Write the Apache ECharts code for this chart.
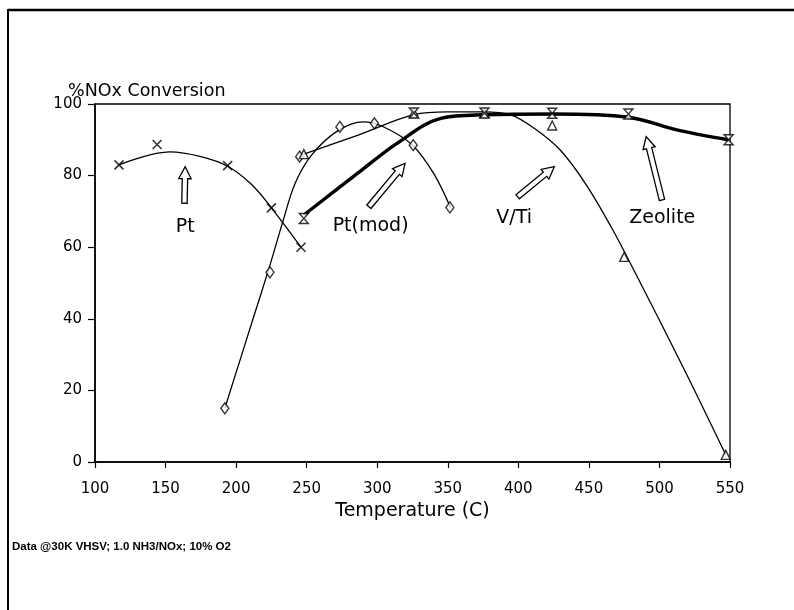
<!DOCTYPE html>
<html>
<head>
<meta charset="utf-8">
<script src="https://cdn.jsdelivr.net/npm/echarts@6/dist/echarts.min.js"></script>
<style>
html,body{margin:0;padding:0;background:#fff;}
#chart{width:794px;height:610px;}
</style>
</head>
<body>
<div id="chart"></div>
<script>
// ---- Data ----
// Measured points [temperature C, % NOx conversion]
var ptPoints      = [[117,83],[144,88.7],[194,82.8],[225,71],[246,60]];
var ptModPoints   = [[192,15],[224,53],[245,85.3],[273.5,93.6],[298,94.6],[325.5,88.5],[351.5,71.1]];
var vtiPoints     = [[248,86],[326,97.5],[376,97.5],[424,94],[475,57.3],[547,2]];
var zeolitePoints = [[248,68],[326,97.5],[376,97.5],[424,97.4],[478,97.2],[549,90]];

// Drawn fit curves
var ptCurve      = [[117,83],[153,86.6],[175,85.3],[194,82.6],[211,77.5],[225,71],[246,60]];
var ptModCurve   = [[192,15],[212,40],[224,55],[233,67],[242,78],[254,86],[272,92.5],[290,95],[305,93.5],[325,88.5],[340,80.6],[352,71]];
var vtiCurve     = [[248,86],[287,91.4],[326,97],[350,97.8],[375,97.8],[395,96.9],[412,93],[430,87],[448,77.5],[466,65.5],[482,53.5],[518,25.5],[547,2]];
var zeoliteCurve = [[248,69],[286,80.6],[314,89],[345,96],[376,97],[425,97.2],[478,96.3],[513,92.7],[549,90]];

// Axis ticks
var xTicks = [100,150,200,250,300,350,400,450,500,550];
var yTicks = [0,20,40,60,80,100];

// Annotation arrows
var arrowLabels = ['Pt','Pt(mod)','V/Ti','Zeolite'];
var arrowTips   = [[163.9,82.5],[319.7,83.4],[425.5,82.5],[490.6,90.9]];
var arrowBases  = [[163.4,72.3],[294.1,71.3],[399.5,74.1],[501.8,73.2]];
var labelPos    = [[164,65.6],[295.3,65.9],[397,68.2],[502,68.2]];

var FONT = '"DejaVu Sans", "Liberation Sans", Arial, sans-serif';
var FOOTFONT = '"Liberation Sans", Arial, sans-serif';
var chart = echarts.init(document.getElementById('chart'), null, {renderer:'canvas'});

function hollow(sym, size){
  return {
    type:'scatter', symbol:sym, symbolSize:size, z:5,
    itemStyle:{color:'#fff', borderColor:'#000', borderWidth:1.4}
  };
}
function curve(data, w){
  return {
    type:'line', data:data, smooth:0.35, showSymbol:false, symbol:'none', z:3,
    lineStyle:{color:'#000', width:w}
  };
}

var sPtCurve = curve(ptCurve, 1.3);
var sPtModCurve = curve(ptModCurve, 1.3);
var sVtiCurve = curve(vtiCurve, 1.3);
var sZeoCurve = curve(zeoliteCurve, 3.4);

var sPt = {type:'scatter', data:ptPoints, symbol:'path://M0,0L10,10M10,0L0,10', symbolSize:9, z:5,
  itemStyle:{color:'transparent', borderColor:'#000', borderWidth:1.6}};
var sPtMod = hollow('diamond',[8,11]); sPtMod.data = ptModPoints;
var sVti = hollow('triangle',[9,9]); sVti.data = vtiPoints;
var sZeo = hollow('path://M0,0L10,0L0,10L10,10Z',[9,10]); sZeo.data = zeolitePoints;

chart.setOption({
  animation:false,
  backgroundColor:'#fff',
  title:{
    text:'%NOx Conversion', left:63, top:77,
    textStyle:{fontFamily:FONT, fontSize:17.5, fontWeight:'normal', color:'#000'}
  },
  grid:{left:95, right:64, top:104, bottom:148, show:true, borderColor:'#000', borderWidth:1.3, backgroundColor:'transparent'},
  xAxis:{
    type:'value', min:xTicks[0], max:xTicks[xTicks.length-1], interval:50,
    name:'Temperature (C)', nameLocation:'middle', nameGap:39,
    nameTextStyle:{fontFamily:FONT, fontSize:19, color:'#000'},
    axisLine:{show:true, lineStyle:{color:'#000', width:1.6}},
    axisTick:{show:true, length:6, lineStyle:{color:'#000', width:1.2}},
    axisLabel:{fontFamily:FONT, fontSize:15, color:'#000', margin:20},
    splitLine:{show:false}
  },
  yAxis:{
    type:'value', min:yTicks[0], max:yTicks[yTicks.length-1], interval:20,
    axisLine:{show:true, lineStyle:{color:'#000', width:1.6}},
    axisTick:{show:true, length:7, lineStyle:{color:'#000', width:1.2}},
    axisLabel:{fontFamily:FONT, fontSize:15, color:'#000', margin:13},
    splitLine:{show:false}
  },
  series:[sPtCurve, sPtModCurve, sVtiCurve, sZeoCurve, sPt, sPtMod, sVti, sZeo]
});

var g = [];
g.push({type:'line', shape:{x1:8, y1:10, x2:794, y2:10}, style:{stroke:'#000', lineWidth:2.6}});
g.push({type:'line', shape:{x1:8, y1:9, x2:8, y2:610}, style:{stroke:'#000', lineWidth:2}});
g.push({type:'text', left:12, top:541, style:{text:'Data @30K VHSV; 1.0 NH3/NOx; 10% O2', font:'bold 11.5px '+FOOTFONT, fill:'#000'}});

for (var i=0;i<arrowLabels.length;i++){
  var t = chart.convertToPixel({gridIndex:0}, arrowTips[i]);
  var b = chart.convertToPixel({gridIndex:0}, arrowBases[i]);
  var dx = t[0]-b[0], dy = t[1]-b[1];
  var L = Math.sqrt(dx*dx+dy*dy);
  var ux = dx/L, uy = dy/L, px = -uy, py = ux;
  var hw = 2.7, hh = 6.2, hl = 12;
  var pts = [[0,-hw],[L-hl,-hw],[L-hl,-hh],[L,0],[L-hl,hh],[L-hl,hw],[0,hw]].map(function(q){
    return [b[0]+ux*q[0]+px*q[1], b[1]+uy*q[0]+py*q[1]];
  });
  g.push({type:'polygon', shape:{points:pts}, style:{fill:'#fff', stroke:'#000', lineWidth:1.3}, z:10});
  var lp = chart.convertToPixel({gridIndex:0}, labelPos[i]);
  g.push({type:'text', x:lp[0], y:lp[1], z:10,
    style:{text:arrowLabels[i], font:'19px '+FONT, fill:'#000', textAlign:'center', textVerticalAlign:'middle'}});
}
chart.setOption({graphic:g});
</script>
</body>
</html>
